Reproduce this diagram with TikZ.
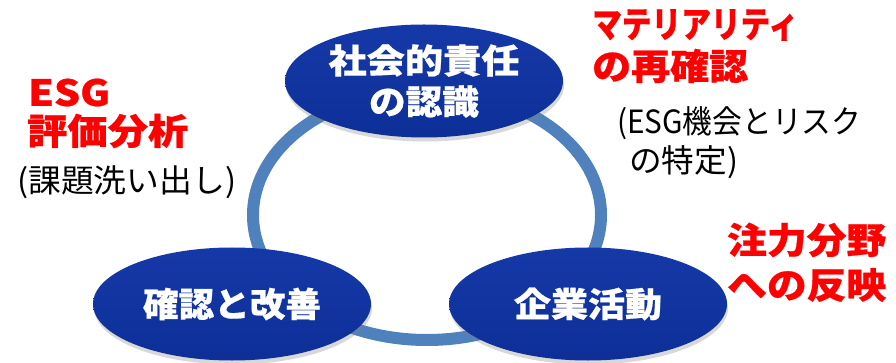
\documentclass[tikz,border=0pt]{standalone}
\usepackage{fontspec}
\usepackage{graphicx}
\setmainfont{Noto Sans CJK JP}[BoldFeatures={FakeBold=0.6}]
\usetikzlibrary{shapes.geometric,shadows}
\definecolor{ringblue}{RGB}{79,129,189}
\definecolor{elltop}{RGB}{80,135,245}
\definecolor{ellmid}{RGB}{22,58,170}
\definecolor{ellbot}{RGB}{8,40,140}
\definecolor{hlred}{RGB}{255,0,0}
\pgfdeclareverticalshading{ellshade}{100bp}{color(0bp)=(ellbot); color(35bp)=(ellbot!50!ellmid); color(82bp)=(ellmid); color(94bp)=(ellmid!60!elltop); color(100bp)=(elltop)}
\newcommand{\fw}[2]{\resizebox{#1pt}{\height}{#2}}
\begin{document}
\begin{tikzpicture}[x=1pt,y=-1pt,
  stage/.style={ellipse, minimum width=278pt, minimum height=113pt, inner sep=0pt,
    shading=ellshade,
    drop shadow={shadow xshift=1pt, shadow yshift=-4pt, opacity=0.3},
    text=white, align=center, font=\bfseries\fontsize{34}{41}\selectfont},
  redt/.style={text=hlred, font=\bfseries\fontsize{36}{40}\selectfont, inner sep=0pt, anchor=west},
  blackt/.style={text=black, font=\fontsize{32}{38}\selectfont, inner sep=0pt, anchor=west},
  ring/.style={draw=ringblue, line width=12pt}]
\useasboundingbox (0,0) rectangle (896,363);
\fill[white] (0,0) rectangle (896,363);
\draw[ring] (427,215) ellipse [x radius=174pt, y radius=125pt];
\node[stage] (top) at (424,81) {\fw{191}{社会的責任}\\\fw{110}{の認識}};
\node[stage] (left) at (232,304) {\fw{178}{確認と改善}};
\node[stage] (right) at (588,304) {\fw{148}{企業活動}};
\node[redt] (esg1) at (28,92.5) {\fw{82}{ESG}};
\node[redt] (esg2) at (27,131) {\fw{161}{評価分析}};
\node[blackt] (esg3) at (17,182) {\fw{219}{(課題洗い出し)}};
\node[redt] (mat1) at (592,25) {\fw{206}{マテリアリティ}};
\node[redt] (mat2) at (592,66) {\fw{156}{の再確認}};
\node[blackt] (mat3) at (617,123) {\fw{244}{(ESG機会とリスク}};
\node[blackt] (mat4) at (629,162) {\fw{109}{の特定)}};
\node[redt] (foc1) at (727,240) {\fw{159}{注力分野}};
\node[redt] (foc2) at (727,285) {\fw{159}{への反映}};
\end{tikzpicture}
\end{document}
